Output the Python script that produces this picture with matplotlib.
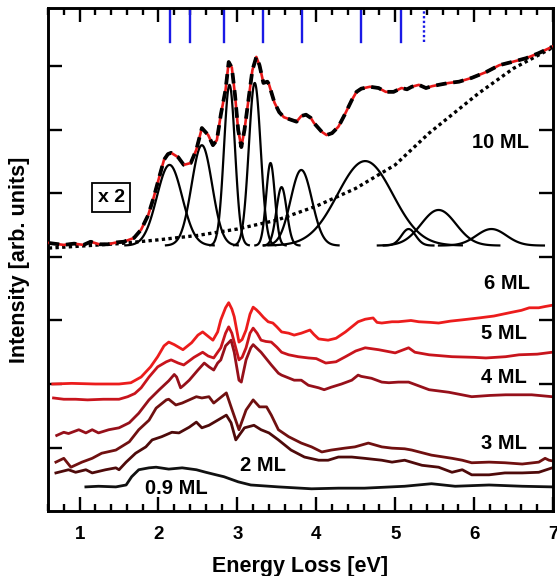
import numpy as np
import matplotlib.pyplot as plt
from matplotlib.ticker import MultipleLocator

plt.rcParams['font.family'] = ['Liberation Sans', 'DejaVu Sans']
plt.rcParams['font.weight'] = 'bold'

# 10 ML spectrum (x2), energy loss [eV] / intensity
ml10 = [(0.61, 4.22), (0.80, 4.19), (0.93, 4.21), (1.05, 4.19), (1.14, 4.24), (1.25, 4.20),
        (1.36, 4.20), (1.47, 4.23), (1.56, 4.24), (1.69, 4.30), (1.78, 4.43), (1.87, 4.66),
        (1.94, 4.94), (2.01, 5.26), (2.07, 5.53), (2.12, 5.62), (2.16, 5.64), (2.25, 5.57),
        (2.32, 5.45), (2.41, 5.48), (2.48, 5.69), (2.55, 6.03), (2.63, 5.92), (2.69, 5.76),
        (2.74, 5.84), (2.79, 6.24), (2.85, 6.63), (2.89, 7.07), (2.93, 6.98), (2.97, 6.55),
        (3.01, 6.00), (3.05, 5.73), (3.09, 6.00), (3.14, 6.47), (3.19, 6.94), (3.24, 7.15),
        (3.28, 7.02), (3.33, 6.74), (3.38, 6.76), (3.40, 6.72), (3.47, 6.43), (3.53, 6.28),
        (3.59, 6.20), (3.68, 6.16), (3.75, 6.13), (3.81, 6.22), (3.87, 6.24), (3.93, 6.19),
        (3.97, 6.11), (4.07, 5.97), (4.13, 5.92), (4.20, 5.95), (4.28, 6.05), (4.36, 6.24),
        (4.45, 6.47), (4.51, 6.60), (4.57, 6.65), (4.68, 6.68), (4.79, 6.66), (4.88, 6.60),
        (4.98, 6.60), (5.08, 6.66), (5.15, 6.64), (5.21, 6.68), (5.30, 6.71), (5.39, 6.66),
        (5.47, 6.69), (5.55, 6.71), (5.68, 6.74), (5.81, 6.76), (5.97, 6.82), (6.15, 6.91),
        (6.32, 7.02), (6.48, 7.07), (6.66, 7.13), (6.82, 7.21), (6.99, 7.31)]

# smooth background under the 10 ML spectrum
background = [(0.61, 4.14), (1.00, 4.17), (1.50, 4.21), (2.00, 4.27), (2.50, 4.34),
              (3.00, 4.44), (3.50, 4.58), (4.00, 4.80), (4.50, 5.08), (5.00, 5.45),
              (5.43, 5.95), (6.06, 6.58), (6.50, 6.97), (7.00, 7.30)]

# gaussian components of the fit
peak_pos = [2.14, 2.55, 2.90, 3.22, 3.42, 3.56, 3.81, 4.62, 5.17, 5.55, 6.22]
peak_amp = [1.27, 1.58, 2.53, 2.56, 1.30, 0.92, 1.19, 1.33, 0.26, 0.56, 0.26]
peak_sigma = [0.16, 0.13, 0.07, 0.075, 0.055, 0.065, 0.135, 0.35, 0.09, 0.22, 0.19]
peak_base = 4.18

# interband transitions marked at the top
transitions = [2.15, 2.40, 2.83, 3.33, 3.82, 4.57, 5.08]
transition_weak = 5.37

ml6 = [(0.66, 2.00), (0.90, 2.01), (1.20, 2.00), (1.50, 2.00), (1.65, 2.02), (1.78, 2.11),
       (1.90, 2.27), (1.99, 2.43), (2.07, 2.60), (2.13, 2.66), (2.20, 2.62), (2.31, 2.54),
       (2.42, 2.65), (2.50, 2.77), (2.56, 2.82), (2.63, 2.75), (2.69, 2.69), (2.75, 2.82),
       (2.79, 3.01), (2.85, 3.20), (2.89, 3.28), (2.93, 3.18), (2.96, 3.06), (3.02, 2.66),
       (3.06, 2.70), (3.11, 2.85), (3.16, 3.10), (3.20, 3.21), (3.24, 3.17), (3.28, 3.12),
       (3.33, 3.05), (3.39, 2.98), (3.45, 2.96), (3.50, 2.90), (3.56, 2.82), (3.65, 2.80),
       (3.72, 2.77), (3.81, 2.80), (3.92, 2.85), (3.97, 2.78), (4.03, 2.71), (4.15, 2.69),
       (4.25, 2.72), (4.37, 2.82), (4.45, 2.90), (4.53, 2.98), (4.62, 3.02), (4.72, 3.04),
       (4.77, 2.97), (4.83, 2.96), (4.96, 2.98), (5.04, 2.98), (5.20, 3.00), (5.30, 2.98),
       (5.45, 2.97), (5.55, 2.96), (5.70, 2.99), (5.85, 3.01), (6.06, 3.04), (6.25, 3.07),
       (6.48, 3.13), (6.60, 3.16), (6.70, 3.20), (6.82, 3.20), (6.90, 3.22), (6.99, 3.24)]

ml5 = [(0.67, 1.78), (0.80, 1.76), (0.95, 1.76), (1.10, 1.75), (1.30, 1.76), (1.50, 1.76),
       (1.61, 1.80), (1.70, 1.85), (1.78, 1.94), (1.88, 2.11), (1.99, 2.27), (2.10, 2.35),
       (2.16, 2.38), (2.25, 2.33), (2.32, 2.30), (2.45, 2.42), (2.56, 2.50), (2.63, 2.44),
       (2.70, 2.41), (2.75, 2.50), (2.79, 2.57), (2.85, 2.80), (2.89, 2.90), (2.93, 2.80),
       (2.96, 2.66), (3.02, 2.38), (3.06, 2.42), (3.11, 2.57), (3.16, 2.80), (3.20, 2.88),
       (3.25, 2.80), (3.30, 2.69), (3.36, 2.67), (3.43, 2.66), (3.50, 2.58), (3.56, 2.50),
       (3.65, 2.46), (3.77, 2.43), (3.90, 2.41), (4.00, 2.40), (4.12, 2.33), (4.25, 2.35),
       (4.37, 2.43), (4.50, 2.52), (4.62, 2.57), (4.79, 2.54), (5.00, 2.49), (5.17, 2.57),
       (5.25, 2.50), (5.43, 2.46), (5.72, 2.43), (6.00, 2.42), (6.15, 2.41), (6.40, 2.43),
       (6.57, 2.46), (6.80, 2.47), (6.99, 2.50)]

ml4 = [(0.71, 1.19), (0.80, 1.24), (0.86, 1.22), (0.99, 1.28), (1.08, 1.23), (1.16, 1.28),
       (1.24, 1.23), (1.37, 1.28), (1.50, 1.31), (1.63, 1.39), (1.75, 1.54), (1.88, 1.75),
       (2.01, 1.91), (2.13, 2.05), (2.20, 2.15), (2.23, 2.11), (2.28, 1.94), (2.32, 1.98),
       (2.39, 2.06), (2.50, 2.22), (2.58, 2.33), (2.64, 2.27), (2.70, 2.22), (2.75, 2.33),
       (2.79, 2.38), (2.85, 2.60), (2.92, 2.69), (2.96, 2.50), (3.02, 2.06), (3.05, 2.03),
       (3.11, 2.38), (3.17, 2.57), (3.20, 2.62), (3.30, 2.50), (3.43, 2.30), (3.52, 2.17),
       (3.56, 2.14), (3.72, 2.06), (3.81, 2.06), (3.90, 1.98), (4.03, 1.94), (4.10, 1.91),
       (4.19, 1.95), (4.32, 2.00), (4.45, 2.06), (4.53, 2.14), (4.57, 2.12), (4.70, 2.09),
       (4.83, 2.03), (4.92, 2.02), (5.04, 2.03), (5.17, 2.03), (5.30, 1.97), (5.43, 1.91),
       (5.68, 1.87), (5.97, 1.80), (6.20, 1.82), (6.40, 1.83), (6.73, 1.83), (6.99, 1.80)]

ml3 = [(0.70, 0.77), (0.80, 0.83), (0.89, 0.69), (1.03, 0.77), (1.16, 0.83), (1.28, 0.91),
       (1.46, 0.96), (1.63, 1.09), (1.75, 1.28), (1.88, 1.43), (1.97, 1.62), (2.10, 1.75),
       (2.13, 1.76), (2.22, 1.67), (2.30, 1.70), (2.39, 1.75), (2.48, 1.80), (2.55, 1.78),
       (2.64, 1.80), (2.70, 1.70), (2.75, 1.75), (2.86, 1.86), (2.92, 1.64), (3.02, 1.28),
       (3.11, 1.59), (3.20, 1.75), (3.28, 1.64), (3.37, 1.64), (3.43, 1.51), (3.52, 1.28),
       (3.65, 1.17), (3.81, 1.07), (3.94, 1.01), (4.07, 0.93), (4.19, 0.96), (4.36, 0.99),
       (4.49, 1.01), (4.66, 1.07), (4.83, 1.01), (4.96, 0.99), (5.12, 0.98), (5.21, 0.96),
       (5.46, 0.88), (5.72, 0.83), (5.85, 0.80), (5.97, 0.76), (6.19, 0.77), (6.39, 0.76),
       (6.61, 0.74), (6.82, 0.77), (6.90, 0.83), (6.95, 0.80), (6.99, 0.79)]

ml2 = [(0.70, 0.60), (0.86, 0.65), (0.95, 0.61), (1.08, 0.65), (1.16, 0.60), (1.33, 0.65),
       (1.46, 0.68), (1.50, 0.65), (1.59, 0.77), (1.71, 0.91), (1.84, 1.01), (1.92, 1.12),
       (2.04, 1.17), (2.17, 1.24), (2.26, 1.23), (2.39, 1.32), (2.48, 1.40), (2.55, 1.31),
       (2.64, 1.35), (2.75, 1.43), (2.86, 1.51), (2.92, 1.39), (2.98, 1.12), (3.09, 1.31),
       (3.21, 1.35), (3.30, 1.28), (3.40, 1.23), (3.52, 1.12), (3.68, 0.96), (3.85, 0.85),
       (4.03, 0.80), (4.15, 0.80), (4.28, 0.85), (4.45, 0.85), (4.61, 0.83), (4.83, 0.80),
       (4.96, 0.77), (5.12, 0.80), (5.34, 0.72), (5.55, 0.69), (5.72, 0.61), (5.85, 0.65),
       (5.97, 0.57), (6.19, 0.57), (6.39, 0.60), (6.61, 0.60), (6.82, 0.61), (6.99, 0.68)]

ml09 = [(1.08, 0.38), (1.24, 0.39), (1.46, 0.38), (1.59, 0.41), (1.66, 0.54), (1.75, 0.65),
        (1.88, 0.68), (1.97, 0.69), (2.13, 0.66), (2.30, 0.68), (2.48, 0.65), (2.60, 0.61),
        (2.73, 0.57), (2.83, 0.54), (3.01, 0.46), (3.17, 0.41), (3.52, 0.38), (3.94, 0.35),
        (4.28, 0.36), (4.61, 0.36), (5.12, 0.39), (5.46, 0.43), (5.76, 0.39), (6.19, 0.41),
        (6.61, 0.39), (6.99, 0.38)]

coverages = [ml6, ml5, ml4, ml3, ml2, ml09]
colors = ['#ec1c1c', '#c8141c', '#96101a', '#701010', '#4e0a0a', '#111111']
labels = ['6 ML', '5 ML', '4 ML', '3 ML', '2 ML', '0.9 ML']
label_xy = [(6.42, 3.59), (6.38, 2.80), (6.38, 2.11), (6.38, 1.07), (3.33, 0.72), (2.22, 0.35)]

fig = plt.figure(figsize=(5.57, 5.76), dpi=100)
ax = fig.add_axes([0.0862, 0.1128, 0.9066, 0.8733])

# upper part: 10 ML with fit
x, y = np.array(ml10).T
ax.plot(x, y, color='#e81818', lw=1.9, zorder=3)
ax.plot(x, y, color='black', lw=2.7, dashes=(2.8, 1.8), zorder=4)

bx, by = np.array(background).T
ax.plot(bx, by, color='black', lw=2.4, dashes=(1, 1), zorder=2)

for c, a, s in zip(peak_pos, peak_amp, peak_sigma):
    e = np.linspace(c - 3.5 * s, c + 3.5 * s, 120)
    ax.plot(e, peak_base + a * np.exp(-0.5 * ((e - c) / s) ** 2), color='black', lw=1.6, zorder=2)

ax.text(6.33, 5.81, '10 ML', fontsize=14.5, ha='center', va='center')
ax.text(1.40, 4.94, 'x 2', fontsize=14, ha='center', va='center',
        bbox=dict(boxstyle='square,pad=0.3', fc='white', ec='black', lw=1.3))

for t in transitions:
    ax.axvline(t, ymin=0.932, ymax=1, color='#1a1ae6', lw=1.7)
ax.axvline(transition_weak, ymin=0.932, ymax=1, color='#1a1ae6', lw=1.7, dashes=(1, 1))

# lower part: coverage series
for data, col, lab, (tx, ty) in zip(coverages, colors, labels, label_xy):
    x, y = np.array(data).T
    ax.plot(x, y, color=col, lw=2.0)
    ax.text(tx, ty, lab, fontsize=14.5, ha='center', va='center')

ax.set_xlim(0.6, 7.0)
ax.set_ylim(0, 7.92)
ax.xaxis.set_major_locator(MultipleLocator(1))
ax.xaxis.set_minor_locator(MultipleLocator(0.2))
ax.set_yticks(range(1, 8))
ax.set_yticklabels([])
ax.tick_params(which='both', direction='in', top=True, right=True, width=1.7)
ax.tick_params(which='major', length=10, labelsize=13.5, pad=11)
ax.tick_params(which='minor', length=5)
for sp in ax.spines.values():
    sp.set_linewidth(2.1)

ax.set_xlabel('Energy Loss [eV]', fontsize=15.5, fontweight='bold', labelpad=9)
ax.set_ylabel('Intensity [arb. units]', fontsize=15.5, fontweight='bold', labelpad=2)

fig.savefig('out.png', dpi=100)
